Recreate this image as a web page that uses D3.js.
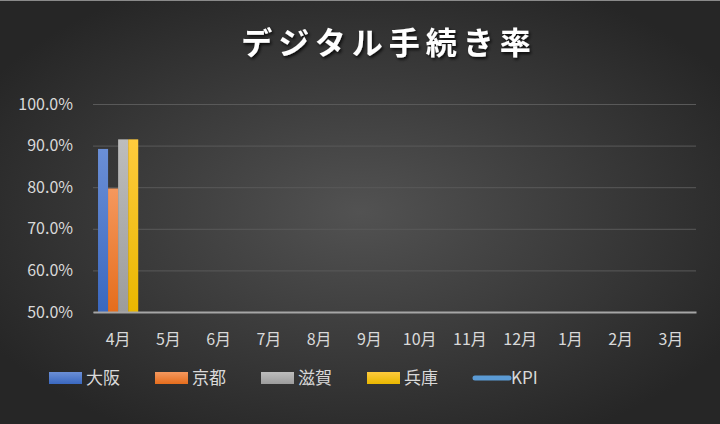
<!DOCTYPE html>
<html>
<head>
<meta charset="utf-8">
<script src="https://cdn.jsdelivr.net/npm/d3@7"></script>
<style>
  html, body { margin: 0; padding: 0; background: #262626; }
  svg { display: block; font-family: "Noto Sans CJK JP", "Noto Sans", sans-serif; }
</style>
</head>
<body>
<script>
// data
var months = ["4月", "5月", "6月", "7月", "8月", "9月", "10月", "11月", "12月", "1月", "2月", "3月"];
var seriesNames = ["大阪", "京都", "滋賀", "兵庫"];
var osaka = [0.892, null, null, null, null, null, null, null, null, null, null, null];
var kyoto = [0.797, null, null, null, null, null, null, null, null, null, null, null];
var shiga = [0.915, null, null, null, null, null, null, null, null, null, null, null];
var hyogo = [0.915, null, null, null, null, null, null, null, null, null, null, null];
var kpi = [null, null, null, null, null, null, null, null, null, null, null, null];
var yTicks = [0.5, 0.6, 0.7, 0.8, 0.9, 1.0];

var seriesValues = [osaka, kyoto, shiga, hyogo];
var colors = [
  ["#6b8fd6", "#3a68c0"],
  ["#f5985e", "#e56d1c"],
  ["#bdbdbd", "#9c9c9c"],
  ["#ffcb3d", "#e9b700"]
];
var kpiColor = "#5b9bd5";

var width = 720, height = 424;
var margin = { top: 104, right: 24, bottom: 112, left: 93 };

var svg = d3.select("body")
  .append("svg")
  .attr("width", width)
  .attr("height", height);

var defs = svg.append("defs");

var bg = defs.append("radialGradient")
  .attr("id", "bg")
  .attr("cx", "50%").attr("cy", "50%").attr("r", "60%");
bg.append("stop").attr("offset", "0%").attr("stop-color", "#525252");
bg.append("stop").attr("offset", "100%").attr("stop-color", "#262626");

colors.forEach(function (c, i) {
  var g = defs.append("linearGradient")
    .attr("id", "bar" + i)
    .attr("x1", 0).attr("y1", 0).attr("x2", 0).attr("y2", 1);
  g.append("stop").attr("offset", "0%").attr("stop-color", c[0]);
  g.append("stop").attr("offset", "100%").attr("stop-color", c[1]);
});

var shadow = defs.append("filter").attr("id", "shadow")
  .attr("x", "-10%").attr("y", "-20%").attr("width", "130%").attr("height", "160%");
shadow.append("feDropShadow")
  .attr("dx", 1.5).attr("dy", 2).attr("stdDeviation", 1.5)
  .attr("flood-color", "#000").attr("flood-opacity", 0.8);

svg.append("rect")
  .attr("width", width)
  .attr("height", height)
  .attr("fill", "url(#bg)");

svg.append("line")
  .attr("x1", 0).attr("x2", width).attr("y1", 0.5).attr("y2", 0.5)
  .attr("stroke", "#8a8a8a").attr("stroke-width", 1);

// title
svg.append("text")
  .attr("x", 389)
  .attr("y", 54)
  .attr("text-anchor", "middle")
  .attr("fill", "#ffffff")
  .attr("font-size", 31)
  .attr("font-weight", "bold")
  .attr("letter-spacing", 6)
  .attr("filter", "url(#shadow)")
  .text("デジタル手続き率");

var xScale = d3.scaleBand()
  .domain(months)
  .range([margin.left, width - margin.right]);

var xInner = d3.scaleBand()
  .domain(seriesNames)
  .range([0, xScale.bandwidth()])
  .paddingOuter(0.5)
  .paddingInner(0);

var yScale = d3.scaleLinear()
  .domain([0.5, 1.0])
  .range([height - margin.bottom, margin.top]);

// gridlines
var yAxis = d3.axisLeft(yScale)
  .tickValues(yTicks)
  .tickFormat(d3.format(".1%"))
  .tickSize(-(width - margin.left - margin.right))
  .tickPadding(20);

var yg = svg.append("g")
  .attr("transform", "translate(" + margin.left + ",0)")
  .call(yAxis);
yg.select(".domain").remove();
yg.selectAll(".tick line")
  .attr("stroke", "#595959")
  .attr("stroke-width", 1);
yg.selectAll(".tick text")
  .attr("fill", "#d9d9d9")
  .attr("font-size", 16)
  .attr("font-family", "\"Noto Sans CJK JP\", sans-serif");

// bars
var groups = svg.append("g").selectAll("g")
  .data(seriesNames)
  .join("g")
  .attr("fill", function (d, i) { return "url(#bar" + i + ")"; });

groups.selectAll("rect")
  .data(function (name, i) {
    return months.map(function (m, j) {
      return { name: name, month: m, value: seriesValues[i][j] };
    }).filter(function (d) { return d.value != null; });
  })
  .join("rect")
  .attr("x", function (d) { return xScale(d.month) + xInner(d.name); })
  .attr("width", xInner.bandwidth())
  .attr("y", function (d) { return yScale(d.value); })
  .attr("height", function (d) { return yScale(0.5) - yScale(d.value); });

// KPI line (no values yet)
var kpiLine = d3.line()
  .defined(function (d) { return d != null; })
  .x(function (d, i) { return xScale(months[i]) + xScale.bandwidth() / 2; })
  .y(function (d) { return yScale(d); });

svg.append("path")
  .attr("d", kpiLine(kpi) || "")
  .attr("fill", "none")
  .attr("stroke", kpiColor)
  .attr("stroke-width", 4);

// x axis
var xAxis = d3.axisBottom(xScale)
  .tickSize(0)
  .tickPadding(22);

var xg = svg.append("g")
  .attr("transform", "translate(0," + (height - margin.bottom) + ")")
  .call(xAxis);
xg.select(".domain")
  .attr("stroke", "#a6a6a6")
  .attr("stroke-width", 2);
xg.selectAll(".tick text")
  .attr("fill", "#d9d9d9")
  .attr("font-size", 16)
  .attr("font-family", "\"Noto Sans CJK JP\", sans-serif");

// legend
var legendItems = seriesNames.map(function (n, i) {
  return { name: n, fill: "url(#bar" + i + ")", type: "bar" };
});
legendItems.push({ name: "KPI", fill: kpiColor, type: "line" });

var legend = svg.append("g")
  .attr("transform", "translate(49,378)");

var items = legend.selectAll("g")
  .data(legendItems)
  .join("g")
  .attr("transform", function (d, i) { return "translate(" + (i * 106) + ",0)"; });

items.filter(function (d) { return d.type === "bar"; })
  .append("rect")
  .attr("x", 0).attr("y", -6)
  .attr("width", 33).attr("height", 12)
  .attr("fill", function (d) { return d.fill; });

items.filter(function (d) { return d.type === "line"; })
  .append("line")
  .attr("x1", 2).attr("x2", 36)
  .attr("y1", 0).attr("y2", 0)
  .attr("stroke", kpiColor)
  .attr("stroke-width", 5)
  .attr("stroke-linecap", "round");

items.append("text")
  .attr("x", function (d) { return d.type === "line" ? 38 : 37; })
  .attr("y", 0)
  .attr("dy", "0.35em")
  .attr("fill", "#d9d9d9")
  .attr("font-size", 17)
  .text(function (d) { return d.name; });
</script>
</body>
</html>
